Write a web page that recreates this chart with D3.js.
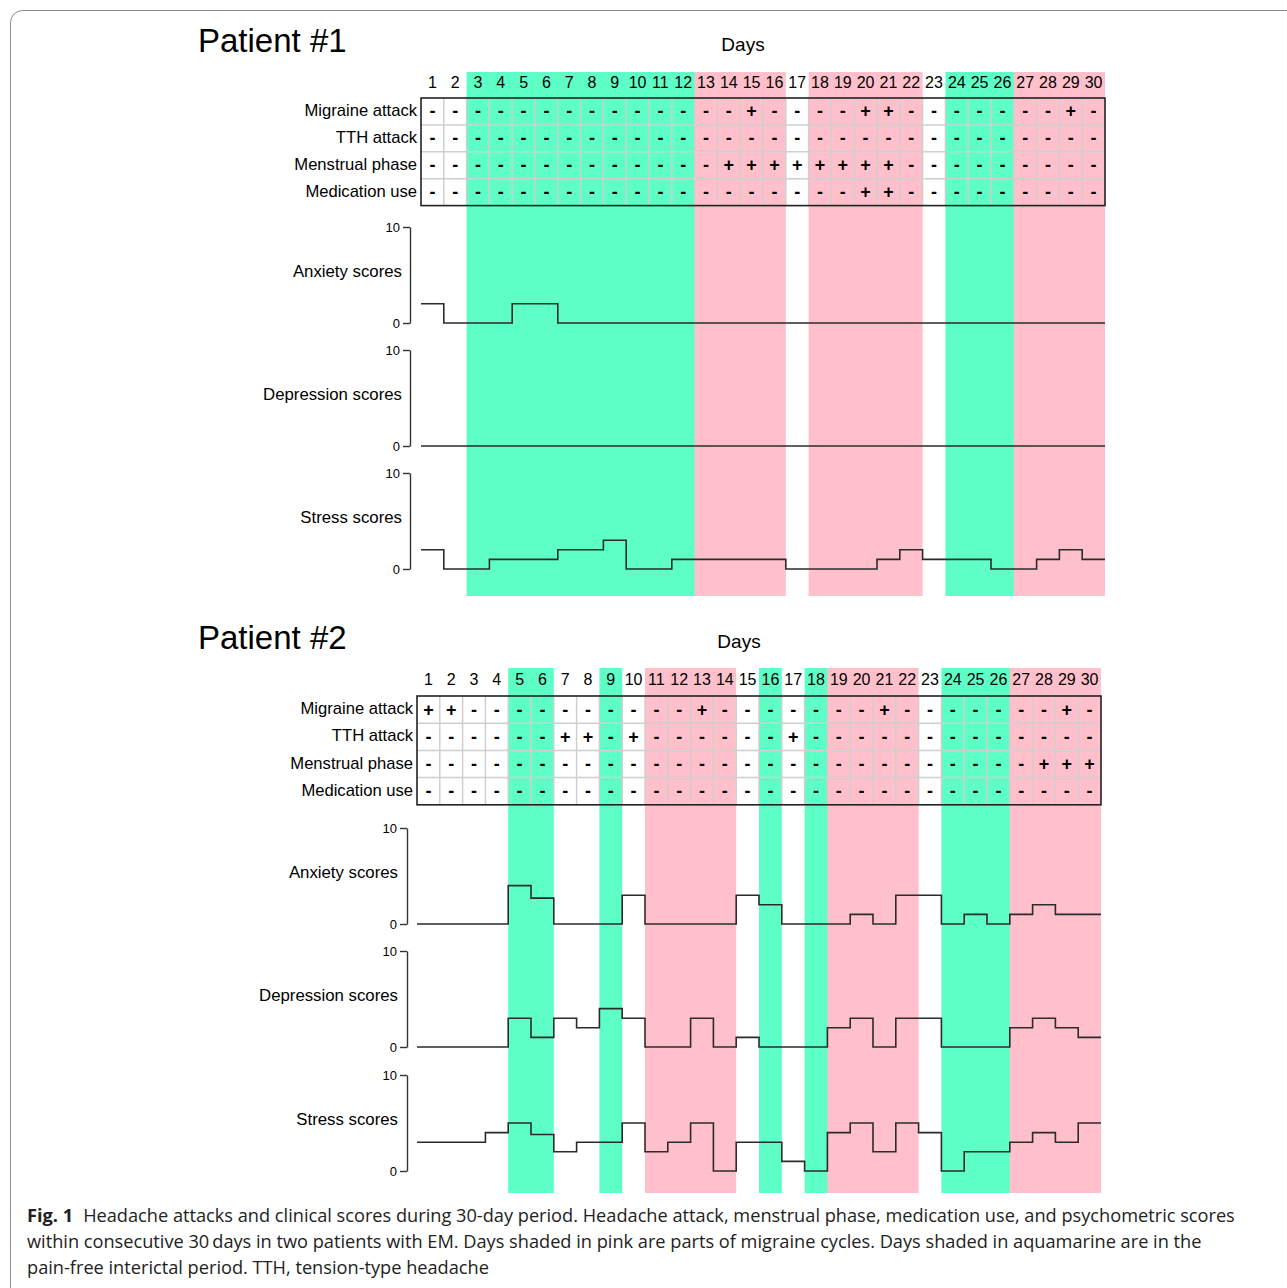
<!DOCTYPE html>
<html>
<head>
<meta charset="utf-8">
<script src="https://cdn.jsdelivr.net/npm/d3@7"></script>
<style>
  body { margin: 0; background: #fff; }
  svg { display: block; }
</style>
</head>
<body>
<div id="chart"></div>
<script>
var width = 1287, height = 1288;

var days = d3.range(1, 31);
var rowLabels = ["Migraine attack", "TTH attack", "Menstrual phase", "Medication use"];
var scoreLabels = ["Anxiety scores", "Depression scores", "Stress scores"];
var scoreTicks = [0, 10];

// a = aquamarine (pain-free interictal), p = pink (migraine cycle), w = not shaded
var p1Phase = ["w","w","a","a","a","a","a","a","a","a","a","a","p","p","p","p","w","p","p","p","p","p","w","a","a","a","p","p","p","p"];
var p2Phase = ["w","w","w","w","a","a","w","w","a","w","p","p","p","p","w","a","w","a","p","p","p","p","w","a","a","a","p","p","p","p"];

// days with "+" in each table row, every other day is "-"
var p1Plus = [[15, 20, 21, 29], [], [14, 15, 16, 17, 18, 19, 20, 21], [20, 21]];
var p2Plus = [[1, 2, 13, 21, 29], [7, 8, 10, 17], [28, 29, 30], []];

// daily scores, day 1 .. day 30
var p1Anxiety    = [2,0,0,0,2,2,0,0,0,0,0,0,0,0,0,0,0,0,0,0,0,0,0,0,0,0,0,0,0,0];
var p1Depression = [0,0,0,0,0,0,0,0,0,0,0,0,0,0,0,0,0,0,0,0,0,0,0,0,0,0,0,0,0,0];
var p1Stress     = [2,0,0,1,1,1,2,2,3,0,0,1,1,1,1,1,0,0,0,0,1,2,1,1,1,0,0,1,2,1];

var p2Anxiety    = [0,0,0,0,4,2.7,0,0,0,3,0,0,0,0,3,2,0,0,0,1,0,3,3,0,1,0,1,2,1,1];
var p2Depression = [0,0,0,0,3,1,3,2,4,3,0,0,3,0,1,0,0,0,2,3,0,3,3,0,0,0,2,3,2,1];
var p2Stress     = [3,3,3,4,5,3.8,2,3,3,5,2,3,5,0,3,3,1,0,4,5,2,5,4,0,2,2,3,4,3,5];

var phaseColor = { a: "#5effc6", p: "#ffc0cb", w: "none" };

var svg = d3.select("#chart").append("svg")
  .attr("width", width)
  .attr("height", height)
  .style("font-family", "'Liberation Sans', Arial, sans-serif");

// figure frame
svg.append("rect")
  .attr("x", 10.5)
  .attr("y", 10.5)
  .attr("width", 1300)
  .attr("height", 1300)
  .attr("rx", 12)
  .attr("fill", "none")
  .attr("stroke", "#8c8c8c")
  .attr("stroke-width", 1);

var patients = [
  { title: "Patient #1", titleY: 52, daysX: 743, daysY: 51, dayLabelY: 88,
    shadeTop: 72, shadeBottom: 596, x0: 421, tableTop: 98, rowH: 26.9,
    axisX: 410, labelX: 402, panels: [[227, 323], [350, 446], [473, 569]],
    phase: p1Phase, plus: p1Plus, scores: [p1Anxiety, p1Depression, p1Stress] },
  { title: "Patient #2", titleY: 649, daysX: 739, daysY: 648, dayLabelY: 685,
    shadeTop: 668, shadeBottom: 1193, x0: 417, tableTop: 696, rowH: 27.2,
    axisX: 407, labelX: 398, panels: [[828, 924], [951, 1047], [1075, 1171]],
    phase: p2Phase, plus: p2Plus, scores: [p2Anxiety, p2Depression, p2Stress] }
];

var cellW = 22.8;

patients.forEach(function(p) {
  var g = svg.append("g");

  var x = d3.scaleBand()
    .domain(days)
    .range([p.x0, p.x0 + cellW * days.length])
    .padding(0);

  // day-start position scale for the step lines (day 31 = right edge)
  var xs = d3.scaleLinear()
    .domain([1, 31])
    .range([p.x0, p.x0 + cellW * days.length]);

  var y = d3.scaleBand()
    .domain(rowLabels)
    .range([p.tableTop, p.tableTop + p.rowH * rowLabels.length]);

  // shaded day columns (slight overlap so no seams show)
  g.selectAll(".shade")
    .data(days.filter(function(d) { return p.phase[d - 1] != "w"; }))
    .enter().append("rect")
    .attr("x", function(d) { return x(d); })
    .attr("y", p.shadeTop)
    .attr("width", function(d) {
      var next = p.phase[d];
      return x.bandwidth() + (next == p.phase[d - 1] || (next && next != "w") ? 1 : 0);
    })
    .attr("height", p.shadeBottom - p.shadeTop)
    .attr("fill", function(d) { return phaseColor[p.phase[d - 1]]; });

  // titles
  g.append("text")
    .text(p.title)
    .attr("x", 198)
    .attr("y", p.titleY)
    .style("font-size", "33px");

  g.append("text")
    .text("Days")
    .attr("x", p.daysX)
    .attr("y", p.daysY)
    .style("font-size", "19px")
    .style("text-anchor", "middle");

  g.selectAll(".day")
    .data(days)
    .enter().append("text")
    .text(function(d) { return d; })
    .attr("x", function(d) { return x(d) + x.bandwidth() / 2; })
    .attr("y", p.dayLabelY)
    .style("font-size", "16px")
    .style("text-anchor", "middle");

  // table grid
  var grid = g.append("g")
    .attr("stroke", "#cfcfcf")
    .attr("stroke-width", 1.5);

  days.slice(1).forEach(function(d) {
    grid.append("line")
      .attr("x1", x(d)).attr("x2", x(d))
      .attr("y1", y.range()[0]).attr("y2", y.range()[1]);
  });
  rowLabels.slice(1).forEach(function(r) {
    grid.append("line")
      .attr("x1", x.range()[0]).attr("x2", x.range()[1])
      .attr("y1", y(r)).attr("y2", y(r));
  });

  g.append("rect")
    .attr("x", x.range()[0])
    .attr("y", y.range()[0])
    .attr("width", x.range()[1] - x.range()[0])
    .attr("height", y.range()[1] - y.range()[0])
    .attr("fill", "none")
    .attr("stroke", "#222")
    .attr("stroke-width", 1.6);

  rowLabels.forEach(function(r, i) {
    g.append("text")
      .text(r)
      .attr("x", p.x0 - 4)
      .attr("y", y(r) + y.bandwidth() / 2 + 4.5)
      .style("font-size", "16.6px")
      .style("text-anchor", "end");

    g.selectAll(".sign" + i)
      .data(days)
      .enter().append("text")
      .text(function(d) { return p.plus[i].indexOf(d) >= 0 ? "+" : "-"; })
      .attr("x", function(d) { return x(d) + x.bandwidth() / 2; })
      .attr("y", y(r) + y.bandwidth() / 2 + 6)
      .style("font-size", "18px")
      .style("font-weight", "bold")
      .style("text-anchor", "middle");
  });

  // score panels
  p.panels.forEach(function(pr, i) {
    var ys = d3.scaleLinear().domain([0, 10]).range([pr[1], pr[0]]);

    var axis = g.append("g")
      .attr("transform", "translate(" + p.axisX + ",0)")
      .call(d3.axisLeft(ys).tickValues(scoreTicks).tickSize(7).tickSizeOuter(0).tickPadding(3));
    axis.selectAll("path, line").attr("stroke", "#333").attr("stroke-width", 1.4);
    axis.selectAll("text")
      .style("font-family", "'Liberation Sans', Arial, sans-serif")
      .style("font-size", "13px")
      .attr("fill", "#000");

    g.append("text")
      .text(scoreLabels[i])
      .attr("x", p.labelX)
      .attr("y", (pr[0] + pr[1]) / 2 + 2)
      .style("font-size", "16.8px")
      .style("text-anchor", "end");

    var vals = p.scores[i];
    var pts = vals.map(function(v, k) { return [k + 1, v]; });
    pts.push([31, vals[vals.length - 1]]);

    var line = d3.line()
      .x(function(d) { return xs(d[0]); })
      .y(function(d) { return ys(d[1]); })
      .curve(d3.curveStepAfter);

    g.append("path")
      .datum(pts)
      .attr("d", line)
      .attr("fill", "none")
      .attr("stroke", "#2b2b2b")
      .attr("stroke-width", 1.6);
  });
});

// caption
var captionLines = [
  "Headache attacks and clinical scores during 30-day period. Headache attack, menstrual phase, medication use, and psychometric scores",
  "within consecutive 30\u2009days in two patients with EM. Days shaded in pink are parts of migraine cycles. Days shaded in aquamarine are in the",
  "pain-free interictal period. TTH, tension-type headache"
];

var cap = svg.append("g")
  .style("font-family", "'Open Sans', 'Noto Sans', sans-serif")
  .style("font-size", "18.2px")
  .attr("fill", "#222");

var first = cap.append("text").attr("x", 27).attr("y", 1222);
first.append("tspan").text("Fig. 1").style("font-weight", "bold");
first.append("tspan").text(captionLines[0]).attr("dx", 10);

cap.append("text").text(captionLines[1]).attr("x", 27).attr("y", 1248);
cap.append("text").text(captionLines[2]).attr("x", 27).attr("y", 1274);
</script>
</body>
</html>
